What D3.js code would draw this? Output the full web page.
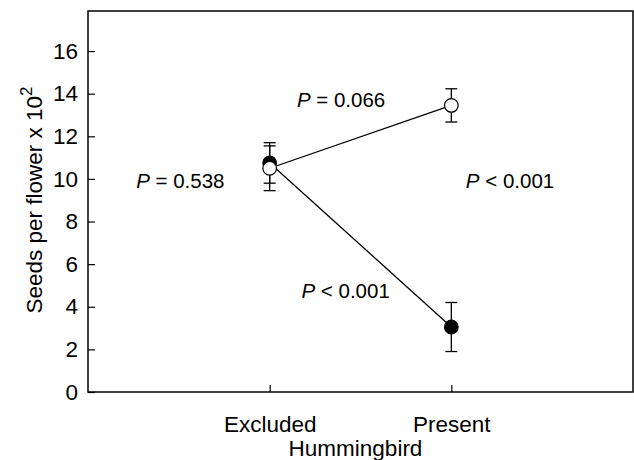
<!DOCTYPE html>
<html>
<head>
<meta charset="utf-8">
<script src="https://cdn.jsdelivr.net/npm/d3@7"></script>
<style>
  body { margin: 0; background: #fff; }
  text { font-family: "Liberation Sans", Arial, sans-serif; fill: #000; }
</style>
</head>
<body>
<svg id="chart" width="634" height="460"></svg>
<script>
// values
const groups = ["Excluded", "Present"];
const filledMean = [10.75, 3.05];
const filledErr = [0.95, 1.15];
const openMean = [10.5, 13.45];
const openErr = [1.05, 0.78];
const yTicks = [0, 2, 4, 6, 8, 10, 12, 14, 16];
const pLabels = ["= 0.538", "= 0.066", "< 0.001", "< 0.001"];

const svg = d3.select("#chart");
const plotLeft = 88, plotRight = 633, plotTop = 11, plotBottom = 392;
const fs = "22.5px";

const x = d3.scaleLinear().domain([0, 3]).range([plotLeft, plotRight]);
const y = d3.scaleLinear().domain([0, 17.88]).range([plotBottom, plotTop]);

// frame
svg.append("rect")
  .attr("x", plotLeft).attr("y", plotTop)
  .attr("width", plotRight - plotLeft).attr("height", plotBottom - plotTop)
  .attr("fill", "none").attr("stroke", "#000").attr("stroke-width", 1.5);

// y axis, ticks pointing inward
const yAxis = svg.append("g")
  .attr("transform", `translate(${plotLeft},0)`)
  .call(d3.axisRight(y).tickValues(yTicks).tickSize(7).tickFormat(d3.format("d")));
yAxis.select(".domain").remove();
yAxis.selectAll("line").attr("stroke-width", 1.2);
yAxis.selectAll("text")
  .attr("x", -10).attr("text-anchor", "end")
  .style("font-size", fs).style("font-family", "Liberation Sans, Arial, sans-serif");

// x axis
const xAxis = svg.append("g")
  .attr("transform", `translate(0,${plotBottom})`)
  .call(d3.axisTop(x).tickValues([1, 2]).tickSize(7).tickFormat(d => groups[d - 1]));
xAxis.select(".domain").remove();
xAxis.selectAll("line").attr("stroke-width", 1.2);
xAxis.selectAll("text")
  .attr("y", 40).attr("dy", null)
  .style("font-size", fs).style("font-family", "Liberation Sans, Arial, sans-serif");

// axis titles
svg.append("text")
  .attr("x", (plotLeft + plotRight) / 2 - 5).attr("y", 456)
  .attr("text-anchor", "middle").style("font-size", fs)
  .text("Hummingbird");

const yt = svg.append("text")
  .attr("transform", "translate(42,200) rotate(-90)")
  .attr("text-anchor", "middle").style("font-size", fs);
yt.append("tspan").text("Seeds per flower x 10");
yt.append("tspan").attr("dy", -10).style("font-size", "17px").text("2");

function series(mean, err, fill) {
  const pts = mean.map((m, i) => ({ x: i + 1, m: m, e: err[i] }));
  svg.append("path")
    .datum(pts)
    .attr("fill", "none").attr("stroke", "#000").attr("stroke-width", 1.3)
    .attr("d", d3.line().x(d => x(d.x)).y(d => y(d.m)));
  const g = svg.append("g").selectAll("g").data(pts).enter().append("g");
  g.append("line")
    .attr("x1", d => x(d.x)).attr("x2", d => x(d.x))
    .attr("y1", d => y(d.m - d.e)).attr("y2", d => y(d.m + d.e))
    .attr("stroke", "#000").attr("stroke-width", 1.3);
  [-1, 1].forEach(s => {
    g.append("line")
      .attr("x1", d => x(d.x) - 6).attr("x2", d => x(d.x) + 6)
      .attr("y1", d => y(d.m + s * d.e)).attr("y2", d => y(d.m + s * d.e))
      .attr("stroke", "#000").attr("stroke-width", 1.3);
  });
  g.append("circle")
    .attr("cx", d => x(d.x)).attr("cy", d => y(d.m)).attr("r", 6.8)
    .attr("fill", fill).attr("stroke", "#000").attr("stroke-width", 1.2);
}
series(filledMean, filledErr, "#000");
series(openMean, openErr, "#fff");

// P value annotations (anchor in data units)
const pPos = [[0.265, 9.57], [1.15, 13.37], [1.175, 4.41], [2.08, 9.57]];
pLabels.forEach((t, i) => {
  const tx = svg.append("text")
    .attr("x", x(pPos[i][0])).attr("y", y(pPos[i][1]))
    .style("font-size", "20.5px");
  tx.append("tspan").style("font-style", "italic").text("P");
  tx.append("tspan").text(" " + t);
});
</script>
</body>
</html>
